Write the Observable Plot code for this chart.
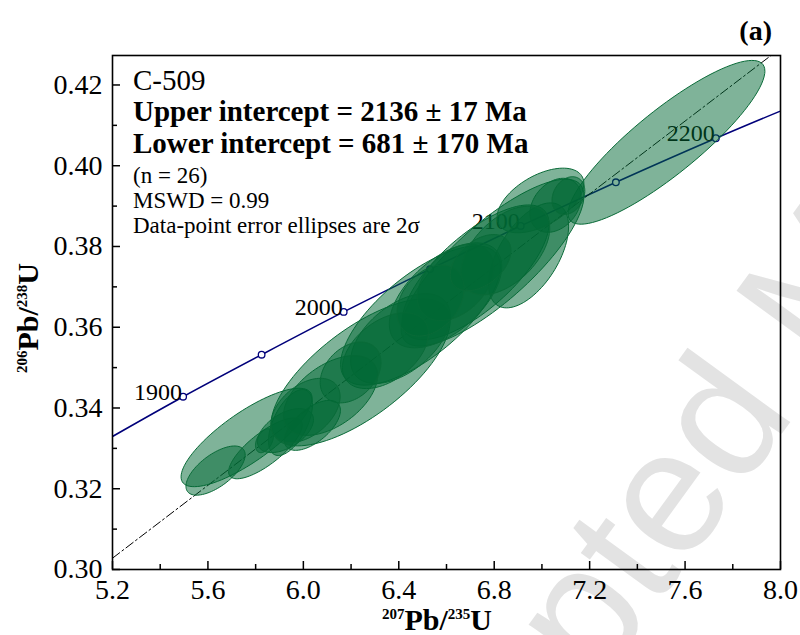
<!DOCTYPE html>
<html>
<head>
<meta charset="utf-8">
<script src="https://cdn.jsdelivr.net/npm/d3@7"></script>
<script src="https://cdn.jsdelivr.net/npm/@observablehq/plot@0.6"></script>
<style>
  html, body { margin: 0; padding: 0; background: #fff; overflow: hidden; }
  svg text { font-family: 'Liberation Serif', 'Times New Roman', serif; }
  svg text.wm { font-family: 'Liberation Sans', Arial, sans-serif; }
</style>
</head>
<body>
<div id="chart"></div>
<script>
// ---------- data ----------
// error ellipses: centre, half-extent (2σ) in x and y, correlation
const ellX   = [7.522, 5.762, 5.632, 5.841, 5.837, 5.946, 5.925, 6.038, 6.240, 6.491, 6.722, 6.793, 6.944,
                7.057, 6.994, 7.111, 6.407, 6.596, 6.344, 6.114, 6.638, 6.847, 6.198, 6.533, 6.009, 6.743];
const ellY   = [0.4058, 0.3327, 0.3245, 0.3300, 0.3319, 0.3364, 0.3344, 0.3357, 0.3488, 0.3629, 0.3736, 0.3760, 0.3778,
                0.3902, 0.3914, 0.3926, 0.3572, 0.3679, 0.3542, 0.3431, 0.3711, 0.3790, 0.3488, 0.3666, 0.3394, 0.3760];
const ellSX  = [0.4125, 0.2746, 0.1241, 0.1543, 0.0377, 0.0922, 0.1174, 0.1174, 0.3752, 0.3349, 0.3077, 0.3831, 0.1677,
                0.1073, 0.1819, 0.0687, 0.2087, 0.2356, 0.1802, 0.1974, 0.1601, 0.1857, 0.1274, 0.1404, 0.1450, 0.1270];
const ellSY  = [0.02028, 0.01219, 0.00609, 0.00753, 0.00297, 0.00817, 0.00545, 0.00619, 0.01818, 0.01724, 0.01669, 0.02066, 0.01300,
                0.00669, 0.00800, 0.00468, 0.01112, 0.01300, 0.00939, 0.00988, 0.00946, 0.01097, 0.00753, 0.00879, 0.00795, 0.00696];
const ellRho = [0.87, 0.80, 0.64, 0.77, 0.40, 0.55, 0.50, 0.60, 0.70, 0.70, 0.72, 0.80, 0.55,
                0.30, 0.52, 0.25, 0.50, 0.55, 0.45, 0.50, 0.39, 0.50, 0.33, 0.34, 0.43, 0.43];

// concordia curve (age marks every 50 Ma)
const concAge = [1800, 1850, 1900, 1950, 2000, 2050, 2100, 2150, 2200, 2250, 2300];
const concX   = [4.887, 5.184, 5.496, 5.825, 6.169, 6.531, 6.911, 7.310, 7.729, 8.170, 8.633];
const concY   = [0.3221, 0.3324, 0.3428, 0.3532, 0.3638, 0.3744, 0.3851, 0.3959, 0.4068, 0.4177, 0.4288];
const concLabelAges = [1900, 2000, 2100, 2200];

// discordia (chord between 681 Ma and 2136 Ma), ends at the frame
const discX = [5.2, 8.0];
const discY = [0.3028, 0.4291];

// axis ticks
const xMajor = [5.2, 5.6, 6.0, 6.4, 6.8, 7.2, 7.6, 8.0];
const xMinor = [5.4, 5.8, 6.2, 6.6, 7.0, 7.4, 7.8];
const yMajor = [0.30, 0.32, 0.34, 0.36, 0.38, 0.40, 0.42];
const yMinor = [0.31, 0.33, 0.35, 0.37, 0.39, 0.41];

const infoLines = ["C-509", "Upper intercept = 2136 ± 17 Ma", "Lower intercept = 681 ± 170 Ma",
                   "(n = 26)", "MSWD = 0.99", "Data-point error ellipses are 2σ"];
const panelTag = "(a)";
const watermark = "Accepted Manuscript";

// ---------- derived tables ----------
const ellPts = [];
ellX.forEach((cx, i) => {
  const ax = ellSX[i], ay = ellSY[i], r = ellRho[i], q = Math.sqrt(1 - r * r);
  for (let k = 0; k < 96; k++) {
    const t = 2 * Math.PI * k / 96;
    ellPts.push({id: i, x: cx + ax * Math.cos(t), y: ellY[i] + ay * (r * Math.cos(t) + q * Math.sin(t))});
  }
});
const conc = concAge.map((a, i) => ({age: a, x: concX[i], y: concY[i]}));
const concIn = conc.filter(d => d.x >= 5.2 && d.x <= 8.0);
const concLab = conc.filter(d => concLabelAges.includes(d.age));
const disc = discX.map((x, i) => ({x, y: discY[i]}));

const SERIF = "'Liberation Serif', 'Times New Roman', serif";
const W = 800, H = 635, ML = 112, MR = 20, MT = 55, MB = 66;
const FH = H - MT - MB;

const chart = Plot.plot({
  width: W, height: H,
  marginLeft: ML, marginRight: MR, marginTop: MT, marginBottom: MB,
  style: {background: "white", overflow: "hidden", color: "black"},
  x: {domain: [5.2, 8.0], axis: null},
  y: {domain: [0.30, 0.4273], axis: null},
  marks: [
    // ticks (inward)
    Plot.tickX(xMajor, {x: d => d, insetTop: FH - 8, stroke: "black", strokeWidth: 1.5}),
    Plot.tickX(xMinor, {x: d => d, insetTop: FH - 5, stroke: "black", strokeWidth: 1.5}),
    Plot.tickY(yMajor, {y: d => d, insetRight: (W - ML - MR) - 8, stroke: "black", strokeWidth: 1.5}),
    Plot.tickY(yMinor, {y: d => d, insetRight: (W - ML - MR) - 5, stroke: "black", strokeWidth: 1.5}),
    // tick labels
    Plot.text(xMajor, {x: d => d, frameAnchor: "bottom", lineAnchor: "top", dy: 10,
                       text: d => d.toFixed(1), fontSize: 28, fontFamily: SERIF, fill: "black"}),
    Plot.text(yMajor, {y: d => d, frameAnchor: "left", textAnchor: "end", dx: -10,
                       text: d => d.toFixed(2), fontSize: 28, fontFamily: SERIF, fill: "black"}),
    // concordia
    Plot.line(conc, {x: "x", y: "y", curve: "catmull-rom", stroke: "#00007a", strokeWidth: 1.6, clip: true}),
    Plot.dot(concIn, {x: "x", y: "y", r: 3.3, fill: "white", stroke: "#00007a", strokeWidth: 1.3}),
    Plot.text(concLab, {x: "x", y: "y", text: d => String(d.age), textAnchor: "end", lineAnchor: "bottom",
                        dx: -1, dy: 3, fontSize: 24, fontFamily: SERIF, fill: "black"}),
    // discordia
    Plot.line(disc, {x: "x", y: "y", stroke: "black", strokeWidth: 1, strokeDasharray: "9,3,2,3", clip: true}),
    // ellipses
    Plot.line(ellPts, {x: "x", y: "y", z: "id", curve: "linear-closed",
                       fill: "#006733", fillOpacity: 0.5, stroke: "#096b38", strokeWidth: 1, clip: true}),
    Plot.frame({stroke: "black", strokeWidth: 1.6})
  ]
});
document.getElementById("chart").appendChild(chart);

// ---------- annotations ----------
const svg = d3.select(chart);

// watermark under everything
svg.insert("text", ":first-child")
  .attr("class", "wm")
  .attr("x", 0).attr("y", 0)
  .attr("text-anchor", "start")
  .attr("transform", "translate(368,1003) rotate(-54)")
  .attr("font-size", 175)
  .attr("fill", "#e3e3e3")
  .text(watermark);

const info = svg.append("g").attr("fill", "black").attr("text-anchor", "start");
const infoStyle = [
  {size: 29, weight: "normal", base: 90},
  {size: 29, weight: "bold", base: 121},
  {size: 29, weight: "bold", base: 153},
  {size: 23, weight: "normal", base: 183},
  {size: 23, weight: "normal", base: 208},
  {size: 23, weight: "normal", base: 233}
];
infoLines.forEach((t, i) => {
  info.append("text").attr("x", 133).attr("y", infoStyle[i].base)
    .attr("font-size", infoStyle[i].size).attr("font-weight", infoStyle[i].weight).text(t);
});

svg.append("text").attr("x", 772).attr("y", 40).attr("text-anchor", "end")
  .attr("font-size", 28).attr("font-weight", "bold").attr("fill", "black").text(panelTag);

function isoLabel(sel, a, b) {
  sel.append("tspan").attr("font-size", 15).attr("dy", -11).text(a);
  sel.append("tspan").attr("font-size", 30).attr("dy", 11).text("Pb/");
  sel.append("tspan").attr("font-size", 15).attr("dy", -11).text(b);
  sel.append("tspan").attr("font-size", 30).attr("dy", 11).text("U");
}
const xl = svg.append("text").attr("x", 437).attr("y", 630).attr("text-anchor", "middle")
  .attr("font-weight", "bold").attr("fill", "black");
isoLabel(xl, "207", "235");
const yl = svg.append("text").attr("transform", "translate(38,318) rotate(-90)").attr("text-anchor", "middle")
  .attr("font-weight", "bold").attr("fill", "black");
isoLabel(yl, "206", "238");
</script>
</body>
</html>
